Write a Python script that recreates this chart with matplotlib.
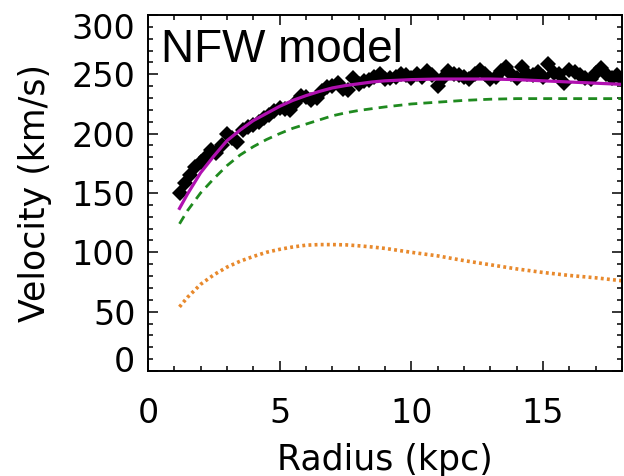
import matplotlib
matplotlib.use('Agg')
import matplotlib.pyplot as plt
from matplotlib.transforms import ScaledTranslation

# observed rotation curve (kpc, km/s)
r_obs = [1.2, 1.4, 1.6, 1.8, 2.0, 2.2, 2.4, 2.6, 2.8, 3.0,
         3.2, 3.4, 3.6, 3.8, 4.0, 4.2, 4.4, 4.6, 4.8, 5.0,
         5.2, 5.4, 5.6, 5.8, 6.0, 6.2, 6.4, 6.6, 6.8, 7.0,
         7.2, 7.4, 7.6, 7.8, 8.0, 8.2, 8.4, 8.6, 8.8, 9.0,
         9.2, 9.4, 9.6, 9.8, 10.0, 10.2, 10.4, 10.6, 10.8, 11.0,
         11.2, 11.4, 11.6, 11.8, 12.0, 12.2, 12.4, 12.6, 12.8, 13.0,
         13.2, 13.4, 13.6, 13.8, 14.0, 14.2, 14.4, 14.6, 14.8, 15.0,
         15.2, 15.4, 15.6, 15.8, 16.0, 16.2, 16.4, 16.6, 16.8, 17.0,
         17.2, 17.4, 17.6, 17.8, 18.0]
v_obs = [150, 158, 165, 172, 176, 180, 186, 184, 190, 200,
         196, 193, 203, 206, 207, 210, 213, 216, 219, 222,
         221, 220, 226, 232, 231, 228, 230, 236, 239, 240,
         243, 238, 237, 247, 242, 244, 245, 248, 250, 246,
         247, 248, 250, 249, 247, 250, 248, 253, 249, 240,
         247, 253, 250, 249, 248, 246, 250, 254, 250, 246,
         248, 253, 256, 250, 247, 256, 250, 249, 252, 248,
         259, 251, 250, 243, 254, 252, 249, 247, 246, 251,
         255, 250, 247, 249, 246]

# model curves
r_mod = [1.2, 1.5, 2.0, 2.5, 3.0, 3.5, 4.0, 4.5, 5.0, 5.5, 6.0, 6.5,
         7.0, 7.5, 8.0, 8.5, 9.0, 10.0, 11.0, 12.0, 13.0, 14.0, 15.0,
         16.0, 17.0, 18.0]
v_total = [137, 149, 167, 181, 194, 203, 211, 217, 223, 228, 232, 235.5,
           238.5, 240.5, 242, 243.5, 244.5, 245.5, 246, 246, 246, 245.5, 244.5,
           243.5, 242.5, 241.5]
v_halo = [124, 135, 150, 162, 173, 182, 189, 195, 200, 204.5, 208, 211.5,
          215, 217.5, 219.5, 221, 222.5, 225, 226.5, 228, 229, 229.5, 229.5,
          229.5, 229.5, 229.5]
v_bary = [54, 62, 73, 81, 87.5, 92.5, 96.5, 100, 102.5, 104.5, 106, 106.5,
          106.5, 106.3, 105.5, 104.5, 103.3, 100, 97, 93, 89.5, 86, 83,
          80.5, 78.5, 76]

fig = plt.figure(figsize=(6.24, 4.76), dpi=100)
ax = fig.add_axes([0.237, 0.2206, 0.76, 0.748])

ax.plot(r_obs, v_obs, 'D', color='black', markersize=8, markeredgewidth=0)
ax.plot(r_mod, v_bary, color='#e8892c', lw=2.6, linestyle=(0, (0.8, 0.9)))
ax.plot(r_mod, v_halo, color='#1f8a1f', lw=2.0, linestyle=(0, (3.2, 2.2)))
ax.plot(r_mod, v_total, color='#b010b0', lw=2.3)

ax.set_xlim(0, 18)
ax.set_ylim(0, 300)
ax.set_xticks([0, 5, 10, 15])
ax.set_yticks([0, 50, 100, 150, 200, 250, 300])
ax.set_xticks(range(0, 19), minor=True)
ax.set_yticks(range(0, 301, 10), minor=True)
ax.tick_params(which='both', direction='in', top=True, right=True, width=1.1)
ax.tick_params(which='major', length=7, labelsize=24)
ax.tick_params(which='minor', length=3.5)
ax.tick_params(axis='y', pad=9)
ax.tick_params(axis='x', pad=19)
for s in ax.spines.values():
    s.set_linewidth(1.4)

ax.set_xlabel('Radius (kpc)', fontsize=25, labelpad=9)
ax.set_ylabel('Velocity (km/s)', fontsize=25, labelpad=14)

# IDL style: end labels pulled inside the axis range
yt = ax.yaxis.get_major_ticks()
yt[0].label1.set_transform(yt[0].label1.get_transform() + ScaledTranslation(0, 12 / 100, fig.dpi_scale_trans))
yt[-1].label1.set_transform(yt[-1].label1.get_transform() + ScaledTranslation(0, -11 / 100, fig.dpi_scale_trans))

ax.text(0.028, 0.869, 'NFW model', transform=ax.transAxes, fontsize=33,
        family='Liberation Sans', va='baseline', ha='left')

fig.savefig('out.png', dpi=100)
